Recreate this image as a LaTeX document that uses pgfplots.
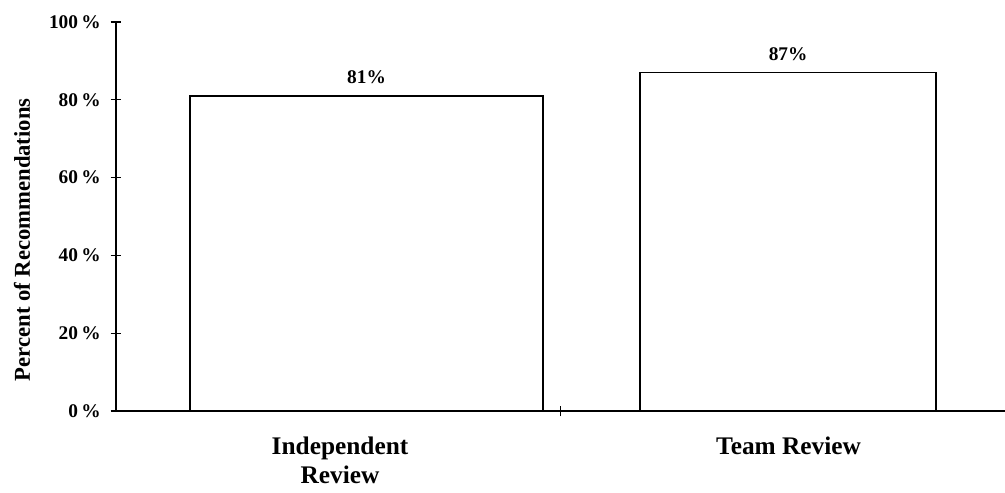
\documentclass[border=0pt]{standalone}
\usepackage{pgfplots}
\pgfplotsset{compat=1.18}
\usepackage{fontspec}
\setmainfont{Liberation Serif}
\begin{document}
\begin{tikzpicture}
\useasboundingbox (-87pt,-60.75pt) rectangle (666.75pt,308.25pt);
\begin{axis}[
  scale only axis,
  width=666.75pt, height=291.75pt,
  anchor=south west, at={(0,0)},
  xmin=0, xmax=2, ymin=0, ymax=100,
  axis lines*=left,
  axis line style={line width=1.1pt},
  clip=false,
  ytick={0,20,40,60,80,100},
  yticklabels={0\,\%,20\,\%,40\,\%,60\,\%,80\,\%,100\,\%},
  yticklabel style={font=\fontsize{14.5}{16}\selectfont\bfseries, xshift=-4pt},
  tick align=center,
  major tick length=8pt,
  tick style={line width=1pt, black},
  xtick={1},
  xticklabels={},
  extra x ticks={0.504,1.513},
  extra x tick labels={Independent\\Review, Team Review},
  extra x tick style={major tick length=0pt, tick label style={align=center, font=\fontsize{19}{21.5}\selectfont\bfseries, yshift=-16pt}},
  ylabel={Percent of Recommendations},
  ylabel style={at={(rel axis cs:-0.1057,0.44)}, anchor=center, font=\fontsize{17}{20}\selectfont\bfseries},
  nodes near coords={\pgfmathprintnumber[assume math mode=true]{\pgfplotspointmeta}\%},
  every node near coord/.append style={font=\fontsize{14.5}{16}\selectfont\bfseries, yshift=5pt},
]
\addplot[ybar, bar width=0.794, draw=black, fill=white, line width=1.1pt] coordinates {(0.5636,81)};
\addplot[ybar, bar width=0.666, draw=black, fill=white, line width=1.1pt] coordinates {(1.512,87)};
\end{axis}
\end{tikzpicture}
\end{document}
